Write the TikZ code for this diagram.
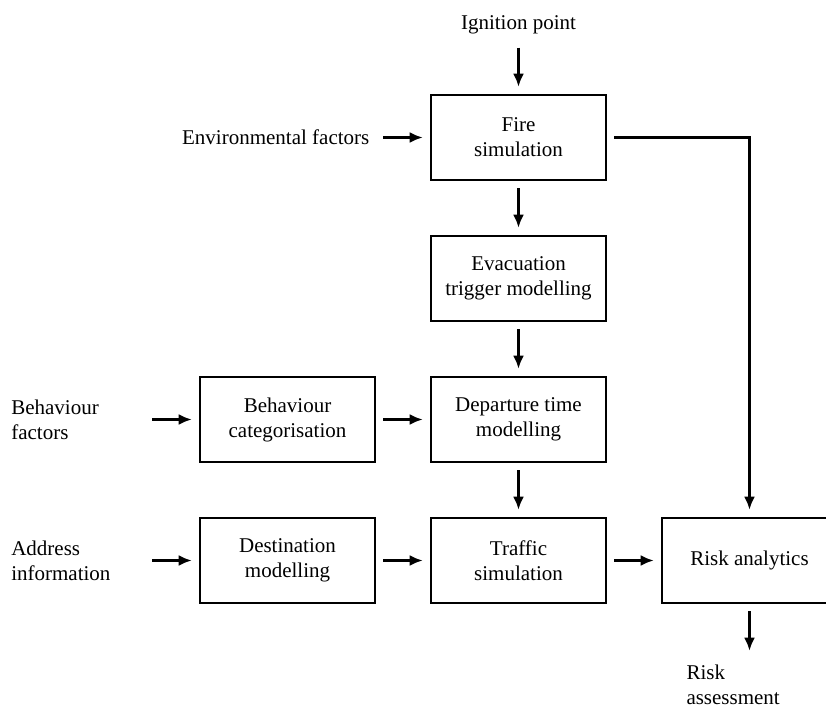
\documentclass[tikz,border=0pt]{standalone}
\usepackage{fontspec}
\setmainfont{Liberation Serif}
\usepackage{tikz}
\usetikzlibrary{positioning,arrows.meta}

\begin{document}
\begin{tikzpicture}[font=\fontsize{10.5}{12.5}\selectfont,
    node distance=26.6pt,
    block/.style={draw, line width=1.4pt, align=center,
        minimum width=87.5pt, minimum height=42.5pt},
    sidetext/.style={align=left, text width=63.5pt},
    link/.style={line width=1.1pt, -{Latex[length=6.5pt,width=5.5pt]},
        shorten >=3.5pt, shorten <=3.5pt}]
\useasboundingbox (0,0) rectangle (413pt,-353pt);

% Fire block
\node[block] (fire) at (259.25pt,-68.75pt) {Fire\\simulation};

% Inputs of the fire block
\node[above=26.5pt of fire] (ignition) {Ignition point};
\node[left=of fire] (environment) {Environmental factors};

% Middle column
\node[block,
    below=of fire
] (evacuation) {Evacuation\\trigger modelling};

\node[block,
    below=of evacuation
] (departure) {Departure time\\modelling};

\node[block,
    below=of departure
] (traffic) {Traffic\\simulation};

% Left column
\node[block,
    left=of departure
] (behaviour) {Behaviour\\categorisation};

\node[block,
    left=of traffic
] (destination) {Destination\\modelling};

\node[sidetext,
    left=of behaviour
] (behfactors) {Behaviour\\factors};

\node[sidetext,
    left=of destination
] (address) {Address\\information};

% Risk block
\node[block,
    right=of traffic
] (risk) {Risk analytics};

\node[align=left, text width=63pt,
    below=of risk
] (assessment) {Risk\\assessment};

% Arrows
\draw[link] (ignition) -- (fire);
\draw[link] (environment) -- (fire);
\draw[link] (fire) -- (evacuation);
\draw[link] (evacuation) -- (departure);
\draw[link] (departure) -- (traffic);
\draw[link] (behfactors) -- (behaviour);
\draw[link] (behaviour) -- (departure);
\draw[link] (address) -- (destination);
\draw[link] (destination) -- (traffic);
\draw[link] (traffic) -- (risk);
\draw[link] (fire.east) -| (risk.north);
\draw[link] (risk) -- (assessment);

\end{tikzpicture}
\end{document}
